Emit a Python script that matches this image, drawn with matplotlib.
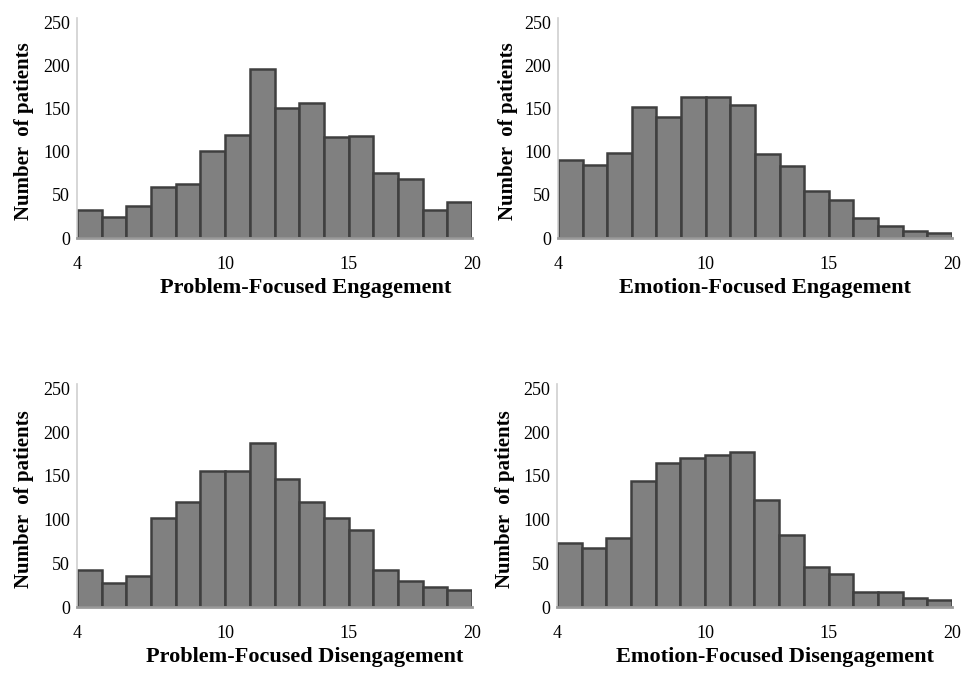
import numpy as np
import matplotlib
matplotlib.use("Agg")
import matplotlib.pyplot as plt

plt.rcParams["font.family"] = ["Liberation Serif", "DejaVu Serif"]

# bin edges of the coping scores (16 bins of width 1, from 4 to 20)
bin_edges = np.arange(4, 21)
x_ticks = [4, 10, 15, 20]
y_ticks = [0, 50, 100, 150, 200, 250]

# patient counts per bin
problem_engagement = [32, 24, 37, 59, 63, 101, 119, 196, 151, 156, 117, 118, 75, 68, 33, 42]
emotion_engagement = [90, 85, 99, 152, 140, 164, 164, 154, 97, 83, 55, 44, 23, 14, 8, 6]
problem_disengagement = [42, 28, 36, 102, 120, 156, 156, 188, 146, 120, 102, 88, 42, 30, 23, 19]
emotion_disengagement = [73, 68, 79, 144, 165, 170, 174, 177, 122, 82, 46, 38, 17, 17, 10, 8]

panels = [
    (problem_engagement, "Problem-Focused Engagement", [0.0789, 0.6474, 0.4047, 0.3259], 0.58, -0.134),
    (emotion_engagement, "Emotion-Focused Engagement", [0.5717, 0.6474, 0.4037, 0.3259], 0.525, -0.127),
    (problem_disengagement, "Problem-Focused Disengagement", [0.0789, 0.1007, 0.4047, 0.3304], 0.577, -0.134),
    (emotion_disengagement, "Emotion-Focused Disengagement", [0.5707, 0.1007, 0.4047, 0.3304], 0.552, -0.132),
]

fig = plt.figure(figsize=(9.76, 6.75), dpi=100)

for counts, label, rect, xlab_x, ylab_x in panels:
    ax = fig.add_axes(rect)
    ax.bar(bin_edges[:-1], counts, width=1.0, align="edge",
           color="#808080", edgecolor="#3f3f3f", linewidth=1.8, zorder=2)
    ax.set_xlim(4, 20)
    ax.set_ylim(0, 255)
    ax.set_xticks(x_ticks)
    ax.set_yticks(y_ticks)
    # little white marks at the bin edges
    ax.set_xticks(bin_edges, minor=True)
    ax.tick_params(axis="x", which="minor", direction="in", length=3,
                   width=1.2, color="white")
    ax.tick_params(axis="x", which="major", length=0, pad=13, labelsize=13)
    ax.tick_params(axis="y", length=0, pad=5, labelsize=13)
    for s in ["top", "right"]:
        ax.spines[s].set_visible(False)
    ax.spines["left"].set_color("#cfcfcf")
    ax.spines["left"].set_linewidth(1.2)
    ax.spines["bottom"].set_color("#9a9a9a")
    ax.spines["bottom"].set_linewidth(2.0)
    ax.spines["bottom"].set_zorder(3)
    ax.set_xlabel(label, fontsize=16, fontweight="bold", va="center")
    ax.xaxis.set_label_coords(xlab_x, -0.226)
    ax.set_ylabel("Number  of patients", fontsize=15, fontweight="bold", va="center")
    ax.yaxis.set_label_coords(ylab_x, 0.485)

fig.savefig("out.png", dpi=100)
